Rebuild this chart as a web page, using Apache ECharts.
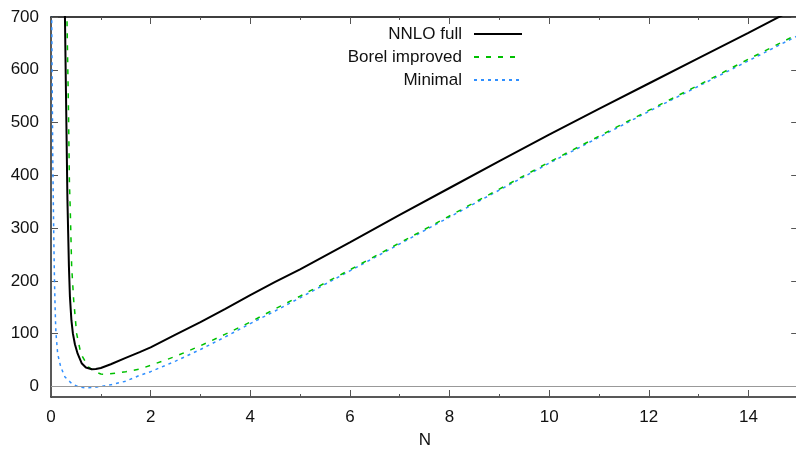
<!DOCTYPE html>
<html>
<head>
<meta charset="utf-8">
<script src="https://cdn.jsdelivr.net/npm/echarts@6/dist/echarts.min.js"></script>
<style>
html,body{margin:0;padding:0;background:#fff;}
#chart{width:796px;height:459px;}
</style>
</head>
<body>
<div id="chart"></div>
<script>
// ---- data ----
const seriesNames = ['NNLO full', 'Borel improved', 'Minimal'];

const nnloN = [0.275, 0.28, 0.30, 0.33, 0.345, 0.36, 0.38, 0.41, 0.44, 0.48, 0.535, 0.615, 0.70, 0.82, 0.9, 1.0, 1.2, 1.5, 1.78, 2, 2.5, 3, 3.5, 4, 4.5, 5, 6, 7, 8, 9, 10, 11, 12, 13, 14, 15];
const nnloV = [780, 700, 560, 353, 290, 227, 170, 125, 100, 80, 62, 44, 36, 32.5, 33, 35, 42, 54, 65, 74, 98, 122, 147, 173, 198, 222, 273, 325, 376, 427, 477, 526, 574, 622, 670, 719];

const borelN = [0.315, 0.32, 0.35, 0.37, 0.387, 0.415, 0.455, 0.515, 0.6, 0.75, 0.88, 1.0, 1.1, 1.3, 1.5, 1.78, 2, 2.5, 3, 3.5, 4, 4.5, 5, 6, 7, 8, 9, 10, 11, 12, 13, 14, 15];
const borelV = [760, 700, 530, 385, 334, 227, 164, 100, 62, 37, 28, 23.5, 23, 25, 28, 33, 40, 57, 77, 99, 122, 147, 171, 221, 272, 323, 374, 425, 474, 523, 571, 620, 668];

const minimalN = [0.01, 0.014, 0.025, 0.035, 0.046, 0.058, 0.07, 0.08, 0.09, 0.1, 0.134, 0.195, 0.28, 0.415, 0.55, 0.68, 0.85, 1.0, 1.2, 1.5, 1.78, 2, 2.5, 3, 3.5, 4, 4.5, 5, 6, 7, 8, 9, 10, 11, 12, 13, 14, 15];
const minimalV = [800, 700, 560, 440, 353, 270, 200, 160, 125, 100, 62, 37, 18, 5.7, -1, -2.6, -2, 0, 3, 10, 21, 28, 48, 70, 94, 119, 143, 168, 219, 270, 321, 372, 423, 472, 521, 569, 617, 665];

const yTickValues = [0, 100, 200, 300, 400, 500, 600, 700];
const xTickLabels = [0, 2, 4, 6, 8, 10, 12, 14];

// ---- chart ----
const FONT = "'Liberation Sans', Arial, Helvetica, sans-serif";
const pairs = (xs, ys) => xs.map((x, i) => [x, ys[i]]);

const chart = echarts.init(document.getElementById('chart'), null, {renderer: 'canvas'});

const xCommon = {
  type: 'value', min: 0, max: 16, interval: 2,
  axisLine: {show: true, onZero: false, lineStyle: {color: '#222', width: 1.5}},
  axisTick: {show: true, inside: true, length: 7, lineStyle: {color: '#555', width: 1}},
  minorTick: {show: true, splitNumber: 2, length: 3, lineStyle: {color: '#555', width: 1}},
  splitLine: {show: false}, minorSplitLine: {show: false}
};

chart.setOption({
  animation: false,
  backgroundColor: '#fff',
  textStyle: {fontFamily: FONT},
  grid: {left: 51, top: 17, width: 797, height: 380, containLabel: false, outerBoundsMode: 'none'},
  legend: {
    data: seriesNames,
    orient: 'vertical', align: 'right',
    right: 268, top: 19,
    itemWidth: 48, itemHeight: 14, itemGap: 3,
    itemStyle: {opacity: 0},
    textStyle: {fontFamily: FONT, fontSize: 17, color: '#111', lineHeight: 20, padding: [0, 7, 0, 0]}
  },
  xAxis: [
    Object.assign({}, xCommon, {
      position: 'bottom',
      name: 'N', nameLocation: 'middle', nameGap: 35,
      nameTextStyle: {fontFamily: FONT, fontSize: 17, color: '#111', padding: [0, 49, 0, 0]},
      axisLabel: {show: true, customValues: xTickLabels, margin: 12, fontFamily: FONT, fontSize: 17, color: '#111'}
    }),
    Object.assign({}, xCommon, {
      position: 'top',
      axisLine: {show: true, onZero: false, lineStyle: {color: '#000', width: 1.5}},
      axisLabel: {show: false}
    })
  ],
  yAxis: [
    {
      type: 'value', min: -20, max: 700, position: 'left',
      axisLine: {show: true, onZero: false, lineStyle: {color: '#222', width: 1.5}},
      axisTick: {show: true, inside: true, length: 7, customValues: yTickValues, lineStyle: {color: '#555', width: 1}},
      axisLabel: {show: true, customValues: yTickValues, margin: 12, fontFamily: FONT, fontSize: 17, color: '#111'},
      splitLine: {show: false}
    },
    {
      type: 'value', min: -20, max: 700, position: 'right', offset: -49.8,
      axisLine: {show: true, onZero: false, lineStyle: {color: '#222', width: 1.5}},
      axisTick: {show: true, inside: true, length: 7, customValues: yTickValues, lineStyle: {color: '#555', width: 1}},
      axisLabel: {show: false},
      splitLine: {show: false}
    }
  ],
  series: [
    {
      name: seriesNames[0], type: 'line', xAxisIndex: 0, yAxisIndex: 0,
      data: pairs(nnloN, nnloV), showSymbol: false, symbol: 'none', clip: true, z: 5,
      lineStyle: {color: '#000', width: 2, type: 'solid'},
      itemStyle: {color: '#000'},
      markLine: {
        silent: true, symbol: ['none', 'none'], label: {show: false},
        lineStyle: {color: '#999', width: 1, type: 'solid'},
        data: [{yAxis: 0}]
      }
    },
    {
      name: seriesNames[1], type: 'line', xAxisIndex: 0, yAxisIndex: 0,
      data: pairs(borelN, borelV), showSymbol: false, symbol: 'none', clip: true, z: 4,
      lineStyle: {color: '#00c000', width: 1.5, type: [5, 7]},
      itemStyle: {color: '#00c000'}
    },
    {
      name: seriesNames[2], type: 'line', xAxisIndex: 0, yAxisIndex: 0,
      data: pairs(minimalN, minimalV), showSymbol: false, symbol: 'none', clip: true, z: 3,
      lineStyle: {color: '#2f8fff', width: 1.5, type: [3, 4]},
      itemStyle: {color: '#2f8fff'}
    }
  ]
});
</script>
</body>
</html>
